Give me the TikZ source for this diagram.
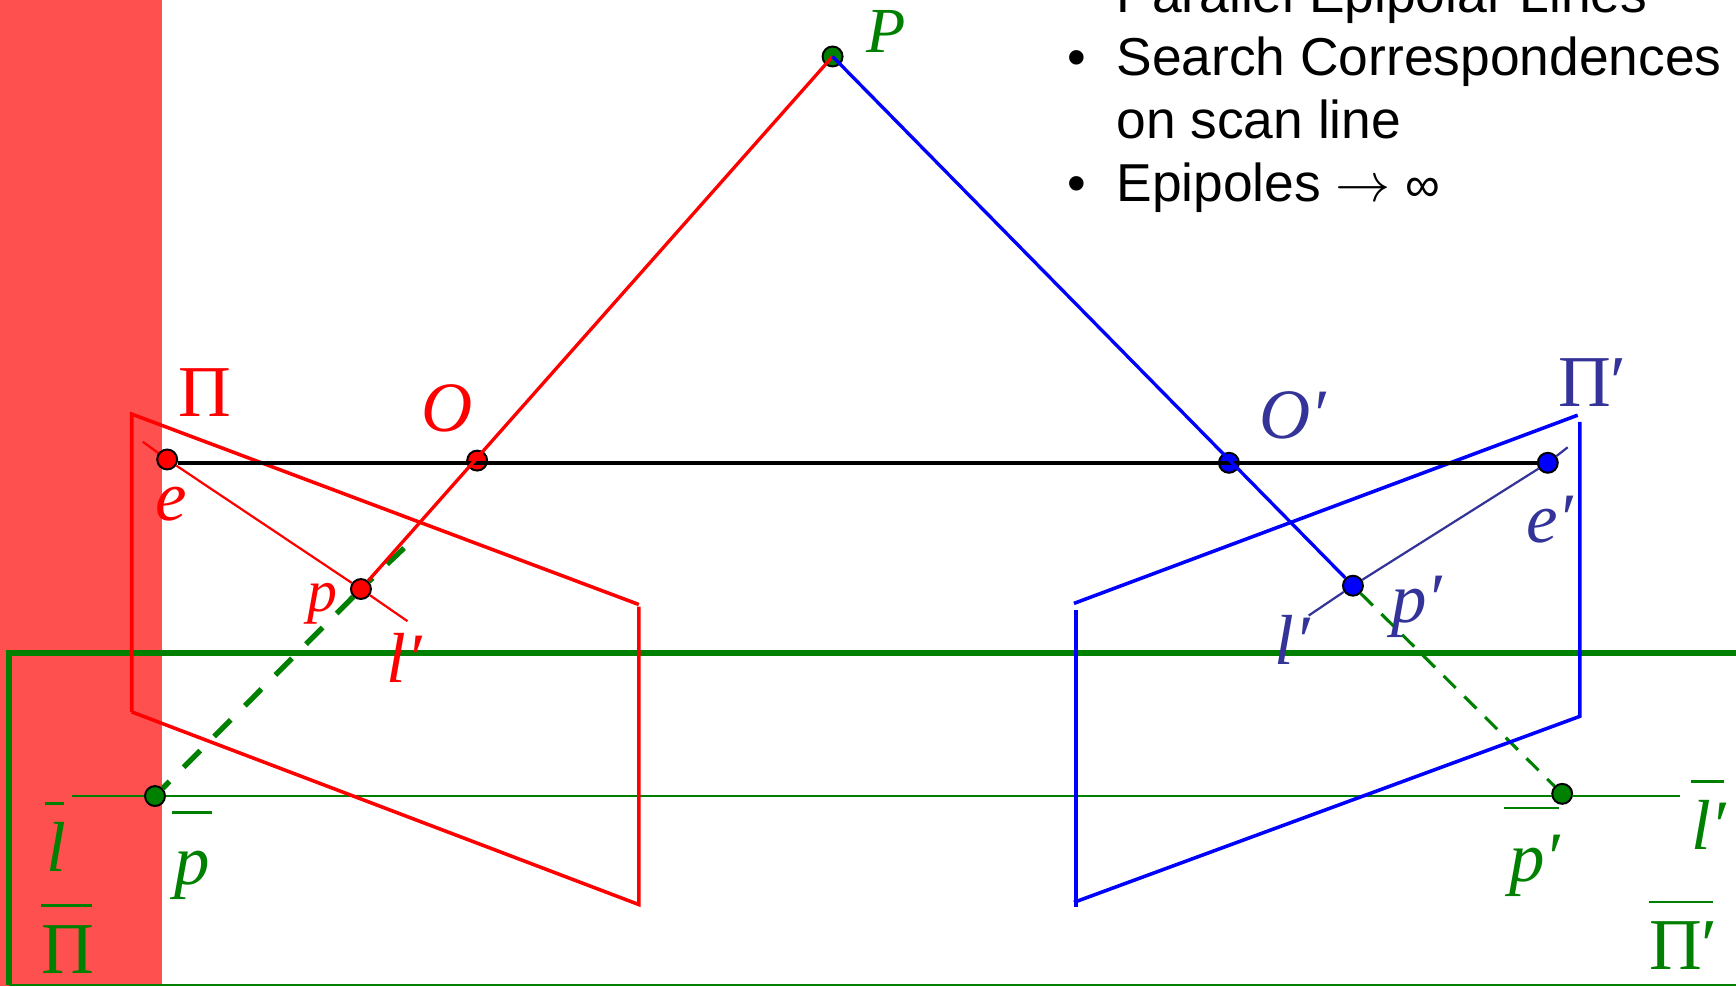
\documentclass[tikz,border=0pt]{standalone}
\usepackage{fontspec}
\setmainfont{Liberation Serif}
\newfontfamily\bulletfont{Liberation Sans}
\usetikzlibrary{positioning}
\definecolor{planegreen}{RGB}{0,128,0}
\definecolor{leftred}{RGB}{255,0,0}
\definecolor{rightblue}{RGB}{0,0,255}
\definecolor{labelblue}{RGB}{51,51,153}
\definecolor{bandred}{RGB}{255,80,80}
\newcommand{\barred}[3]{\rlap{\rule[#1]{#2}{1.1pt}}#3}

\begin{document}
\begin{tikzpicture}[
  x=0.5pt, y=-0.5pt,
  dot/.style={circle, draw=black, line width=0.9pt, inner sep=0pt, minimum size=9pt},
  lab/.style={anchor=base west, inner sep=0pt, font=\fontsize{32}{32}\selectfont\itshape},
  uplab/.style={lab, font=\fontsize{33}{33}\selectfont},
  say/.style={anchor=base west, inner sep=0pt, font=\bulletfont\fontsize{24.1}{24.1}\selectfont},
  plane/.style={line width=1.6pt},
  epi/.style={line width=1pt},
  leftray/.style={line width=1.5pt, leftred},
  rightray/.style={line width=1.5pt, rightblue},
  thickdash/.style={planegreen, line width=2.4pt, dash pattern=on 10.6pt off 9pt},
]
  \clip (0,0) rectangle (1568,891);

  % Red band and rectified frame
  \fill[bandred] (0,0) rectangle (146,891);
  \coordinate (fa) at (8,890);
  \coordinate (fb) at (8,590);
  \coordinate (fc) at (1568,590);
  \coordinate (fd) at (1568,890);
  \draw[planegreen, line width=2.7pt, line join=miter] (fa) -- (fb) -- (fc);
  \draw[planegreen, line width=0.9pt] (fa) -- (fd);

  % Points
  \node[dot, fill=planegreen] (P) at (752,51) {};
  \node[dot, fill=leftred] (O) at (431,416) {};
  \node[dot, fill=rightblue] (Oq) at (1110,418) {};
  \node[dot, fill=leftred] (e) at (151,415) {};
  \node[dot, fill=rightblue] (eq) at (1398,418) {};
  \node[dot, fill=leftred] (p) at (326,532) {};
  \node[dot, fill=rightblue] (pq) at (1222,529) {};
  \node[dot, fill=planegreen] (pbar) at (140,719) {};
  \node[dot, fill=planegreen] (pqbar) at (1411,717) {};

  % Free ends
  \coordinate (la) at (129,399);
  \coordinate (lb) at (368,561);
  \coordinate (ra) at (1416,404);
  \coordinate (rb) at (1182,556);
  \coordinate (da) at (365,495);
  \coordinate (ga) at (65,719);
  \coordinate (gb) at (1402,719);
  \coordinate (gc) at (1420,719);
  \coordinate (gd) at (1517,719);

  % Rectified scan line and projections
  \draw[planegreen, line width=1.1pt] (ga) -- (pbar);
  \draw[planegreen, line width=1.1pt] (pbar) -- (gb);
  \draw[planegreen, line width=1.1pt] (gc) -- (gd);
  \draw[thickdash] (p) -- (pbar);
  \draw[thickdash] (da) -- (p);
  \draw[planegreen, line width=1.4pt, dash pattern=on 7.7pt off 5.5pt] (pq) -- (pqbar);

  % Left image plane
  \coordinate (a1) at (119,374);
  \coordinate (a2) at (577,546);
  \coordinate (a3) at (577,548);
  \coordinate (a4) at (577,817);
  \coordinate (a5) at (119,643);
  \draw[plane, leftred] (a5) -- (a1) -- (a2);
  \draw[plane, leftred] (a3) -- (a4) -- (a5);

  % Right image plane
  \coordinate (b1) at (1425,375);
  \coordinate (b2) at (970,545);
  \coordinate (b3) at (972,551);
  \coordinate (b4) at (972,819);
  \coordinate (b5) at (1427,647);
  \coordinate (b6) at (1427,381);
  \coordinate (b7) at (970,815);
  \draw[plane, rightblue] (b1) -- (b2);
  \draw[plane, rightblue] (b3) -- (b4);
  \draw[plane, rightblue] (b7) -- (b5) -- (b6);

  % Baseline
  \draw[black, line width=2pt] (e.east |- eq) -- (eq);

  % Epipolar lines
  \draw[epi, leftred] (la) -- (e);
  \draw[epi, leftred] (e) -- (p);
  \draw[epi, leftred] (p) -- (lb);
  \draw[epi, labelblue] (ra) -- (eq);
  \draw[epi, labelblue] (eq) -- (pq);
  \draw[epi, labelblue] (pq) -- (rb);

  % Rays
  \draw[leftray] (P.center) -- (p);
  \draw[rightray] (P.center) -- (pq);

  % Labels
  \node[lab, text=planegreen, font=\fontsize{29}{29}\selectfont\itshape] (tP) at (782,47) {P};
  \node[uplab, text=leftred] (tPi) at (161,376) {Π};
  \node[lab, text=leftred] (tO) at (380,390) {O};
  \node[lab, text=leftred] (te) at (140,470) {e};
  \node[lab, text=leftred, font=\fontsize{27}{27}\selectfont\itshape] (tp) at (277,552) {p};
  \node[lab, text=leftred] (tl) at (349,616) {l′};
  \node[uplab, text=labelblue] (tPiq) at (1407,367) {Π′};
  \node[lab, text=labelblue] (tOq) at (1137,396) {O′};
  \node[lab, text=labelblue] (teq) at (1378,490) {e′};
  \node[lab, text=labelblue] (tpq) at (1256,562) {p′};
  \node[lab, text=labelblue] (tlq) at (1151,600) {l′};
  \node[lab, text=planegreen] (tlbar) at (40,787) {\barred{30pt}{8.5pt}{\kern1pt l}};
  \node[lab, text=planegreen] (tpbar) at (155,799) {\barred{32pt}{18pt}{\kern1pt p}};
  \node[uplab, text=planegreen] (tPibar) at (37,879) {\barred{30pt}{23pt}{Π}};
  \node[lab, text=planegreen] (tlqbar) at (1527,767) {\barred{30pt}{15pt}{l′}};
  \node[lab, text=planegreen] (tpqbar) at (1358,796) {\barred{32.5pt}{25pt}{\kern2.5pt p′}};
  \node[uplab, text=planegreen] (tPiqbar) at (1489,876) {\barred{30pt}{29pt}{Π′}};

  % Notes
  \node[say] (s1) at (1008,11) {Parallel Epipolar Lines};
  \node[say] (b2t) at (964,68) {•};
  \node[say] (s2) at (1008,68) {Search Correspondences};
  \node[say] (s3) at (1008,125) {on scan line};
  \node[say] (b3t) at (964,182) {•};
  \node[say] (s4) at (1008,182) {Epipoles $\rightarrow$ {\fontsize{22}{22}\selectfont∞}};
\end{tikzpicture}
\end{document}
